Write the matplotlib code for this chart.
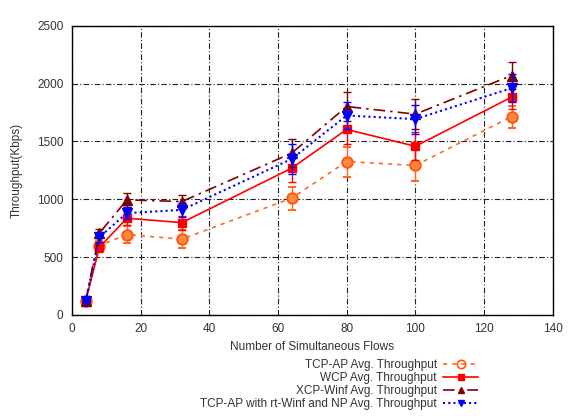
import matplotlib
matplotlib.use("Agg")
import matplotlib.pyplot as plt
from matplotlib.lines import Line2D

# ── Data ──────────────────────────────────────────────────────
flows = [4, 8, 16, 32, 64, 80, 100, 128]

tcpap_avg  = [120, 600, 695, 655, 1010, 1326, 1292, 1715]
tcpap_err  = [10, 40, 70, 80, 100, 130, 130, 95]

wcp_avg    = [120, 585, 836, 798, 1269, 1604, 1458, 1883]
wcp_err    = [10, 40, 60, 60, 120, 130, 120, 100]

xcp_avg    = [120, 707, 995, 980, 1399, 1802, 1736, 2070]
xcp_err    = [10, 40, 60, 60, 120, 125, 130, 115]

rtwinf_avg = [120, 672, 880, 908, 1349, 1724, 1693, 1961]
rtwinf_err = [10, 40, 50, 60, 130, 115, 125, 120]

labels = ["TCP-AP Avg. Throughput",
          "WCP Avg. Throughput",
          "XCP-Winf Avg. Throughput",
          "TCP-AP with rt-Winf and NP Avg. Throughput"]

xticks = [0, 20, 40, 60, 80, 100, 120, 140]
yticks = [0, 500, 1000, 1500, 2000, 2500]

plt.rcParams["font.family"] = ["Liberation Sans", "DejaVu Sans"]

fig = plt.figure(figsize=(5.8, 4.16), dpi=100)
ax = fig.add_axes([0.124, 0.243, 0.829, 0.695])

# ── Series ────────────────────────────────────────────────────
styles = [
    dict(color="#ff6a20", ls=(0, (2.5, 3)), lw=1.2, marker="o", mfc="#ff8a45", mec="#ff5a10", mew=1.5),
    dict(color="#ff0000", ls="-", lw=1.2, marker="s"),
    dict(color="#800000", ls=(0, (7, 3, 1.5, 3)), lw=1.2, marker="^"),
    dict(color="#0000ff", ls=(0, (1, 1.5)), lw=1.5, marker="v"),
]
sizes = [7.5, 6, 6.5, 7]
series = [(tcpap_avg, tcpap_err), (wcp_avg, wcp_err), (xcp_avg, xcp_err), (rtwinf_avg, rtwinf_err)]

handles = []
for i, (avg, err) in enumerate(series):
    ax.errorbar(flows, avg, yerr=err, ms=sizes[i], capsize=3, elinewidth=1,
                zorder=3 + i, **styles[i])
    st = dict(styles[i])
    if i == 0:
        st.update(mfc="none", mew=1.2)
    handles.append(Line2D([], [], ms=5 if i else 6, **st))

# ── Axes ──────────────────────────────────────────────────────
ax.set_xlim(0, 140)
ax.set_ylim(0, 2500)
ax.set_xticks(xticks)
ax.set_yticks(yticks)
ax.tick_params(length=0, labelsize=8.5, labelcolor="#333333", pad=6)
ax.grid(True, color="#222222", ls=(0, (5, 2, 1, 2)), lw=0.8)
ax.set_axisbelow(True)
for s in ax.spines.values():
    s.set_linewidth(1.0)

ax.set_xlabel("Number of Simultaneous Flows", fontsize=8.5, color="#333333", labelpad=4)
ax.set_ylabel("Throughput(Kbps)", fontsize=8.5, color="#333333", labelpad=10)

leg = ax.legend(handles, labels, loc="upper right", bbox_to_anchor=(0.855, -0.135),
                markerfirst=False, frameon=False, fontsize=8.5, handlelength=3.0,
                labelspacing=0.1, borderaxespad=0, handletextpad=0.5)
for t in leg.get_texts():
    t.set_color("#333333")

plt.savefig("out.png", dpi=100)
